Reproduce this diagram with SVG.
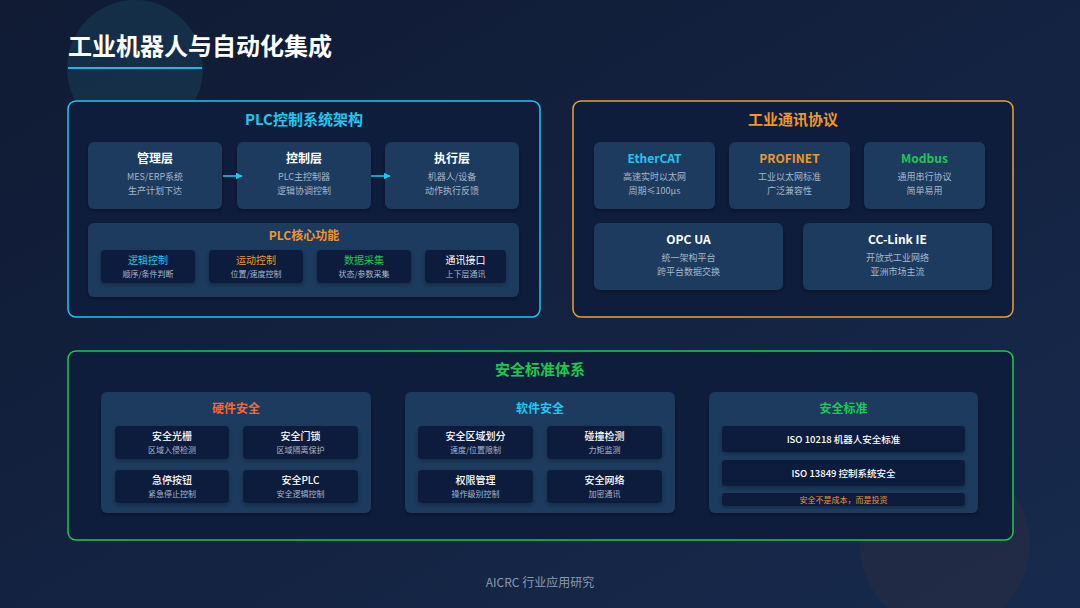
<svg xmlns="http://www.w3.org/2000/svg" width="1080" height="608" viewBox="0 0 1080 608">
<defs>
<linearGradient id="bg" x1="0" y1="0" x2="1" y2="1">
<stop offset="0" stop-color="#101a33"/>
<stop offset="1" stop-color="#172a4d"/>
</linearGradient>
<marker id="arr" viewBox="0 0 10 10" refX="9" refY="5" markerWidth="7" markerHeight="7" orient="auto" markerUnits="userSpaceOnUse">
<path d="M0,0 L10,5 L0,10 z" fill="#1ec8f0"/>
</marker>
<filter id="sh" x="-10%" y="-10%" width="120%" height="130%">
<feDropShadow dx="0" dy="2" stdDeviation="2" flood-color="#000" flood-opacity="0.3"/>
</filter>
</defs>
<style>
text{font-family:"Noto Sans CJK SC","Liberation Sans",sans-serif;text-anchor:middle}
.panel{fill:#0f1d3c;stroke-width:1.5}
.card{fill:#1b3a5e;filter:url(#sh)}
.inner{fill:#0e1d3e;filter:url(#sh)}
.pt{font-size:15px;font-weight:bold}
.ct{font-size:12px;font-weight:bold;fill:#ffffff}
.cs{font-size:9px;fill:#a8b6c8}
.it{font-size:10px;font-weight:500;fill:#ffffff}
.is{font-size:8px;fill:#a8b6c8}
.cy{fill:#1ec8f0}.or{fill:#f0962a}.gr{fill:#1ec850}.rd{fill:#f06a30}
</style>
<rect width="1080" height="608" fill="url(#bg)"/>
<circle cx="135" cy="68" r="68" fill="#1a4660" opacity="0.45"/>
<circle cx="945" cy="545" r="85" fill="#3a3238" opacity="0.3"/>

<g id="title">
<text x="68" y="55" style="text-anchor:start;font-size:24px;font-weight:bold;fill:#ffffff">工业机器人与自动化集成</text>
<rect x="68" y="67" width="134" height="2" fill="#1eb6e8"/>
</g>

<g id="plc-panel">
<rect class="panel" x="68" y="101" width="472" height="216" rx="8" stroke="#1ec8f0"/>
<text class="pt cy" x="304" y="125">PLC控制系统架构</text>
</g>
<g id="layer-mgmt">
<rect class="card" x="88" y="142" width="134" height="67" rx="6"/>
<text class="ct" x="155" y="163">管理层</text>
<text class="cs" x="155" y="180">MES/ERP系统</text>
<text class="cs" x="155" y="194">生产计划下达</text>
</g>
<g id="layer-ctrl">
<rect class="card" x="237" y="142" width="134" height="67" rx="6"/>
<text class="ct" x="304" y="163">控制层</text>
<text class="cs" x="304" y="180">PLC主控制器</text>
<text class="cs" x="304" y="194">逻辑协调控制</text>
</g>
<g id="layer-exec">
<rect class="card" x="385" y="142" width="134" height="67" rx="6"/>
<text class="ct" x="452" y="163">执行层</text>
<text class="cs" x="452" y="180">机器人/设备</text>
<text class="cs" x="452" y="194">动作执行反馈</text>
</g>
<g id="connectors">
<line x1="223" y1="176" x2="242" y2="176" stroke="#1ec8f0" stroke-width="1.5" marker-end="url(#arr)"/>
<line x1="371" y1="176" x2="390" y2="176" stroke="#1ec8f0" stroke-width="1.5" marker-end="url(#arr)"/>
</g>
<g id="plc-core">
<rect class="card" x="88" y="223" width="431" height="74" rx="6"/>
<text x="304" y="240" style="font-size:12px;font-weight:bold" class="or">PLC核心功能</text>
<rect class="inner" x="101" y="250" width="94" height="33" rx="4"/>
<text x="148" y="264" style="font-size:10px" class="cy">逻辑控制</text>
<text class="is" x="148" y="277">顺序/条件判断</text>
<rect class="inner" x="209" y="250" width="94" height="33" rx="4"/>
<text x="256" y="264" style="font-size:10px" class="or">运动控制</text>
<text class="is" x="256" y="277">位置/速度控制</text>
<rect class="inner" x="317" y="250" width="94" height="33" rx="4"/>
<text x="364" y="264" style="font-size:10px" class="gr">数据采集</text>
<text class="is" x="364" y="277">状态/参数采集</text>
<rect class="inner" x="425" y="250" width="81" height="33" rx="4"/>
<text x="465.5" y="264" style="font-size:10px;fill:#ffffff">通讯接口</text>
<text class="is" x="465.5" y="277">上下层通讯</text>
</g>

<g id="proto-panel">
<rect class="panel" x="573" y="101" width="440" height="216" rx="8" stroke="#f0a030"/>
<text class="pt or" x="793" y="125">工业通讯协议</text>
</g>
<g id="ethercat">
<rect class="card" x="594" y="142" width="121" height="67" rx="6"/>
<text class="ct cy" x="654.5" y="163">EtherCAT</text>
<text class="cs" x="654.5" y="180">高速实时以太网</text>
<text class="cs" x="654.5" y="194">周期≤100μs</text>
</g>
<g id="profinet">
<rect class="card" x="729" y="142" width="121" height="67" rx="6"/>
<text class="ct or" x="789.5" y="163">PROFINET</text>
<text class="cs" x="789.5" y="180">工业以太网标准</text>
<text class="cs" x="789.5" y="194">广泛兼容性</text>
</g>
<g id="modbus">
<rect class="card" x="864" y="142" width="121" height="67" rx="6"/>
<text class="ct gr" x="924.5" y="163">Modbus</text>
<text class="cs" x="924.5" y="180">通用串行协议</text>
<text class="cs" x="924.5" y="194">简单易用</text>
</g>
<g id="opcua">
<rect class="card" x="594" y="223" width="189" height="67" rx="6"/>
<text class="ct" x="688.5" y="244">OPC UA</text>
<text class="cs" x="688.5" y="261">统一架构平台</text>
<text class="cs" x="688.5" y="275">跨平台数据交换</text>
</g>
<g id="cclink">
<rect class="card" x="803" y="223" width="189" height="67" rx="6"/>
<text class="ct" x="897.5" y="244">CC-Link IE</text>
<text class="cs" x="897.5" y="261">开放式工业网络</text>
<text class="cs" x="897.5" y="275">亚洲市场主流</text>
</g>

<g id="safety-panel">
<rect class="panel" x="68" y="351" width="945" height="189" rx="8" stroke="#1ec850"/>
<text class="pt gr" x="540" y="375">安全标准体系</text>
</g>
<g id="hw-safety">
<rect class="card" x="101" y="392" width="270" height="121" rx="6"/>
<text x="236" y="413" style="font-size:12px;font-weight:bold" class="rd">硬件安全</text>
<rect class="inner" x="115" y="426" width="114" height="33" rx="4"/>
<text class="it" x="172" y="440">安全光栅</text>
<text class="is" x="172" y="453">区域入侵检测</text>
<rect class="inner" x="243" y="426" width="115" height="33" rx="4"/>
<text class="it" x="300.5" y="440">安全门锁</text>
<text class="is" x="300.5" y="453">区域隔离保护</text>
<rect class="inner" x="115" y="470" width="114" height="33" rx="4"/>
<text class="it" x="172" y="484">急停按钮</text>
<text class="is" x="172" y="497">紧急停止控制</text>
<rect class="inner" x="243" y="470" width="115" height="33" rx="4"/>
<text class="it" x="300.5" y="484">安全PLC</text>
<text class="is" x="300.5" y="497">安全逻辑控制</text>
</g>
<g id="sw-safety">
<rect class="card" x="405" y="392" width="270" height="121" rx="6"/>
<text x="540" y="413" style="font-size:12px;font-weight:bold" class="cy">软件安全</text>
<rect class="inner" x="418" y="426" width="115" height="33" rx="4"/>
<text class="it" x="475.5" y="440">安全区域划分</text>
<text class="is" x="475.5" y="453">速度/位置限制</text>
<rect class="inner" x="547" y="426" width="115" height="33" rx="4"/>
<text class="it" x="604.5" y="440">碰撞检测</text>
<text class="is" x="604.5" y="453">力矩监测</text>
<rect class="inner" x="418" y="470" width="115" height="33" rx="4"/>
<text class="it" x="475.5" y="484">权限管理</text>
<text class="is" x="475.5" y="497">操作级别控制</text>
<rect class="inner" x="547" y="470" width="115" height="33" rx="4"/>
<text class="it" x="604.5" y="484">安全网络</text>
<text class="is" x="604.5" y="497">加密通讯</text>
</g>
<g id="std-safety">
<rect class="card" x="709" y="392" width="269" height="121" rx="6"/>
<text x="843.5" y="413" style="font-size:12px;font-weight:bold" class="gr">安全标准</text>
<rect class="inner" x="722" y="426" width="243" height="26" rx="3"/>
<text x="843.5" y="443" style="font-size:9.5px;font-weight:500;fill:#ffffff">ISO 10218 机器人安全标准</text>
<rect class="inner" x="722" y="460" width="243" height="26" rx="3"/>
<text x="843.5" y="477" style="font-size:9.5px;font-weight:500;fill:#ffffff">ISO 13849 控制系统安全</text>
<rect class="inner" x="722" y="493" width="243" height="13" rx="3"/>
<text x="843.5" y="503" style="font-size:8px" class="or">安全不是成本，而是投资</text>
</g>

<g id="footer">
<text x="540" y="587" style="font-size:12px;fill:#8c9ab0">AICRC 行业应用研究</text>
</g>
</svg>
